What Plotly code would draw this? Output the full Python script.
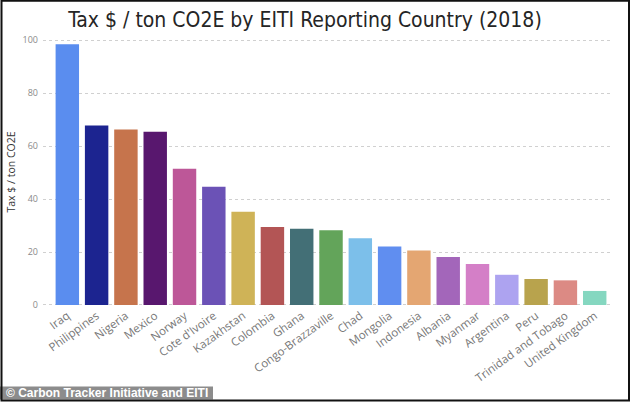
import plotly.graph_objects as go

countries = ["Iraq", "Philippines", "Nigeria", "Mexico", "Norway", "Cote d'Ivoire",
             "Kazakhstan", "Colombia", "Ghana", "Congo-Brazzaville", "Chad", "Mongolia",
             "Indonesia", "Albania", "Myanmar", "Argentina", "Peru",
             "Trinidad and Tobago", "United Kingdom"]
tax_per_ton = [98.4, 67.7, 66.2, 65.4, 51.4, 44.6, 35.2, 29.4, 28.8, 28.2,
               25.2, 22.1, 20.6, 18.1, 15.5, 11.4, 9.8, 9.3, 5.3]
bar_colors = ["#5a8def", "#1c2490", "#c6744c", "#58176e", "#bd5798", "#6b52b6",
              "#cfb357", "#b35555", "#436f76", "#63a45a", "#7cbfea", "#608ef0",
              "#e4a672", "#a366ba", "#d47fc7", "#ada3f0", "#b8a34d", "#dc8a84",
              "#85d7c0"]
y_ticks = [0, 20, 40, 60, 80, 100]

W, H = 634, 402
L, R, T, B = 43, 612, 39, 306  # plot area in pixels


def px(x):
    return (x - L) / (R - L)


def py(y):
    return (B - y) / (B - T)


fig = go.Figure(go.Bar(
    x=countries, y=tax_per_ton,
    marker=dict(color=bar_colors, line=dict(width=0)),
))

fig.update_layout(
    width=W, height=H,
    margin=dict(l=L, r=W - R, t=T, b=H - B, pad=0),
    paper_bgcolor="white", plot_bgcolor="white",
    bargap=0.2,
    showlegend=False,
    title=dict(text="Tax $ / ton CO2E by EITI Reporting Country (2018)",
               x=305 / W, xanchor="center", xref="container",
               y=1 - 20 / H, yanchor="middle", yref="container",
               font=dict(family="DejaVu Sans Condensed, Liberation Sans Narrow, Roboto",
                         size=21, color="#252525")),
    xaxis=dict(type="category", range=[-0.83, 18.59], tickangle=-36,
               tickfont=dict(family="Open Sans", size=11.5, color="#777777"),
               showgrid=False, showline=False, ticks="", zeroline=False),
    yaxis=dict(range=[-0.38, 100.38], tickvals=y_ticks,
               tickfont=dict(family="Open Sans", size=9, color="#8a8a8a"),
               showgrid=True, gridcolor="#d0d0d0", griddash="dot", gridwidth=1,
               zeroline=False, showline=False, ticks="", ticklabelstandoff=4),
)

fig.update_xaxes(automargin=False)
fig.update_yaxes(automargin=False)

# y axis title
fig.add_annotation(text="Tax $ / ton CO2E", xref="paper", yref="paper",
                   x=px(10), y=py(172.5), xanchor="center", yanchor="middle",
                   textangle=-90, showarrow=False,
                   font=dict(family="Open Sans", size=10.5, color="#333333"))

# credit banner
fig.add_shape(type="rect", xref="paper", yref="paper",
              x0=px(0), x1=px(213), y0=py(399.5), y1=py(386.5),
              fillcolor="#8c8c8c", line=dict(width=0), layer="above")
fig.add_annotation(text="<b>© Carbon Tracker Initiative and EITI</b>",
                   xref="paper", yref="paper", x=px(4), y=py(393),
                   xanchor="left", yanchor="middle", showarrow=False,
                   font=dict(family="Liberation Sans", size=12, color="white"))

# frame
fig.add_shape(type="rect", xref="paper", yref="paper",
              x0=px(1.5), x1=px(629), y0=py(400.5), y1=py(0.8),
              fillcolor="rgba(0,0,0,0)", line=dict(color="#111111", width=2),
              layer="above")

fig.write_html("out.html", config={"displayModeBar": False},
               post_script="document.body.style.margin='0';document.body.style.overflow='hidden';")
